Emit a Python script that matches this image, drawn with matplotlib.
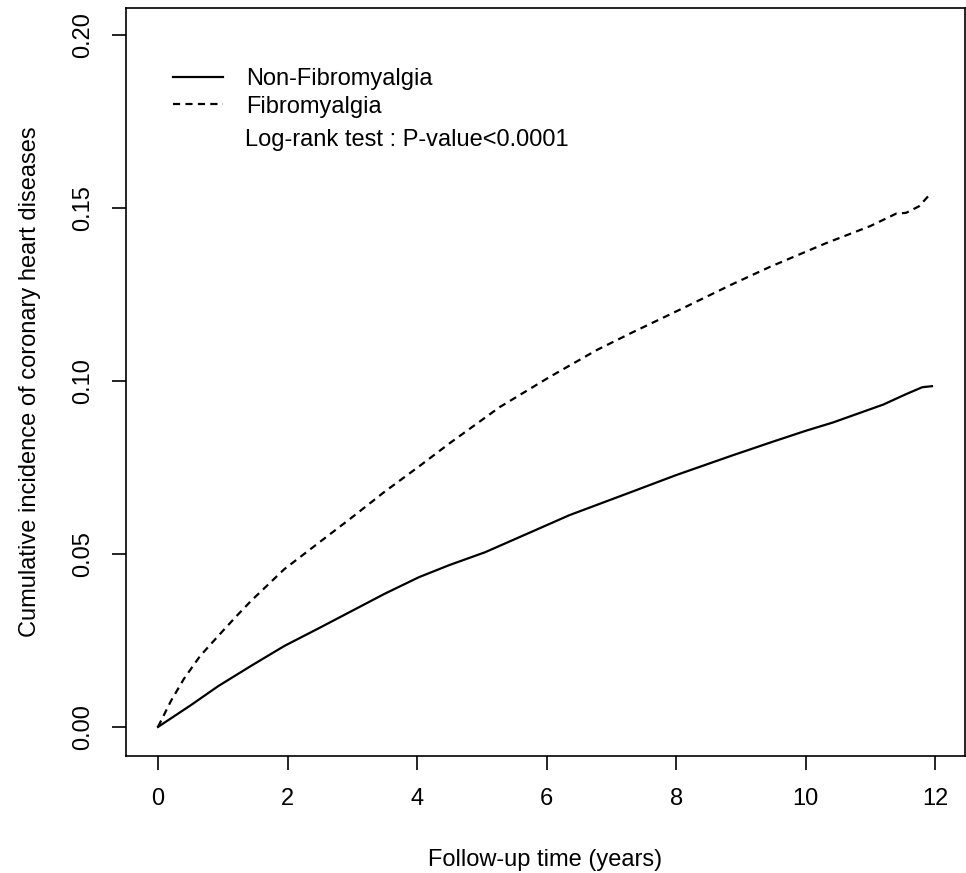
import matplotlib
matplotlib.use("Agg")
import matplotlib.pyplot as plt

plt.rcParams['font.family'] = ['Liberation Sans', 'DejaVu Sans']

# cumulative incidence
t_non = [0, 0.5, 0.93, 1.45, 1.95, 2.5, 2.99, 3.5, 4.03, 4.5, 5.05, 5.78, 6.35,
         7.32, 8.0, 8.87, 9.5, 10.0, 10.42, 11.2, 11.55, 11.8, 11.95]
ci_non = [0, 0.0062, 0.0118, 0.0178, 0.0234, 0.0287, 0.0335, 0.0385, 0.0433,
          0.0468, 0.0505, 0.0565, 0.0612, 0.0680, 0.0728, 0.0785, 0.0825,
          0.0856, 0.0880, 0.0932, 0.0962, 0.0982, 0.0985]

t_fib = [0, 0.2, 0.4, 0.65, 0.93, 1.2, 1.44, 1.95, 2.48, 2.99, 3.5, 4.03, 4.51,
         5.28, 6.05, 6.78, 7.32, 8.1, 8.87, 9.45, 10.31, 11.0, 11.4, 11.55,
         11.75, 11.94]
ci_fib = [0, 0.0075, 0.0139, 0.0205, 0.0263, 0.0318, 0.0365, 0.0456, 0.0532,
          0.0605, 0.0680, 0.0753, 0.0821, 0.0925, 0.1012, 0.1090, 0.1140,
          0.1210, 0.1280, 0.1330, 0.1398, 0.1448, 0.1484, 0.1486, 0.1505,
          0.1544]

x_ticks = [0, 2, 4, 6, 8, 10, 12]
y_ticks = [0.00, 0.05, 0.10, 0.15, 0.20]
labels = ['Non-Fibromyalgia', 'Fibromyalgia']
test_text = 'Log-rank test : P-value<0.0001'

fs = 17
fig = plt.figure(figsize=(9.66, 8.73), dpi=100)
ax = fig.add_axes([0.1304, 0.134, 0.9990 - 0.1304, 0.9908 - 0.134])

ax.plot(t_non, ci_non, color='black', lw=1.6, label=labels[0])
ax.plot(t_fib, ci_fib, color='black', lw=1.6, linestyle=(0, (3.2, 2.4)),
        label=labels[1])

ax.set_xlim(-0.494, 12.46)
ax.set_ylim(-0.0084, 0.2078)
ax.set_xticks(x_ticks)
ax.set_xticklabels([str(v) for v in x_ticks])
ax.set_yticks(y_ticks)
ax.set_yticklabels(['%.2f' % v for v in y_ticks])

for s in ax.spines.values():
    s.set_linewidth(1.2)
ax.tick_params(axis='both', direction='out', length=10, width=1.2,
               labelsize=fs, colors='black')
ax.tick_params(axis='x', pad=13)
ax.tick_params(axis='y', pad=13, labelrotation=90)
for lbl in ax.get_yticklabels():
    lbl.set_va('center')

ax.set_xlabel('Follow-up time (years)', fontsize=fs, labelpad=28)
ax.set_ylabel('Cumulative incidence of coronary heart diseases', fontsize=fs,
              labelpad=22)

leg = ax.legend(loc='upper left', bbox_to_anchor=(0.045, 0.932), frameon=False,
                fontsize=fs, handlelength=2.1, handletextpad=1.0,
                labelspacing=0.22, borderaxespad=0)
ax.text(0.142, 0.824, test_text, transform=ax.transAxes, fontsize=fs,
        va='center', ha='left')

fig.savefig('out.png', dpi=100)
